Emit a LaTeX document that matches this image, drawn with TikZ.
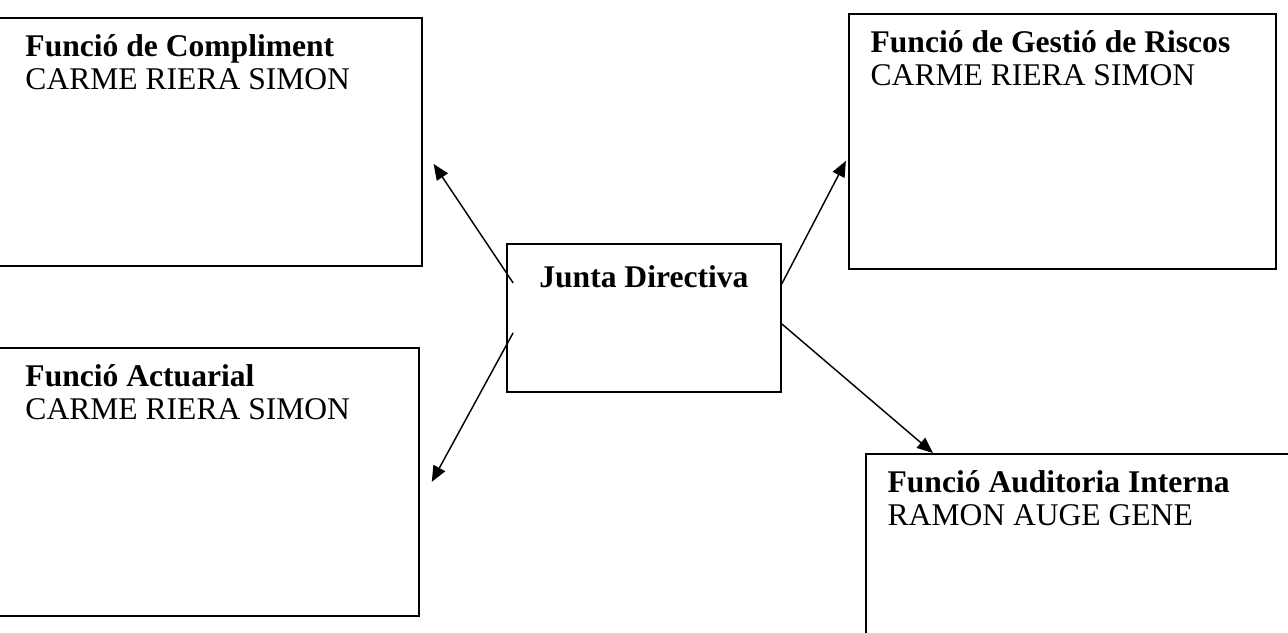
\documentclass[tikz,border=0pt]{standalone}
\usepackage{fontspec}
\setmainfont{Liberation Serif}
\usepackage{tikz}
\usetikzlibrary{arrows.meta, positioning}
\tikzstyle{funcbox} = [rectangle, anchor=north west, inner sep=0pt, draw=black, line width=0.7pt]
\tikzstyle{functext} = [anchor=north west, align=left, inner sep=0pt, font=\fontsize{12}{12.6}\selectfont]
\tikzstyle{arrow} = [line width=0.55pt,-{Triangle[length=6pt,width=5pt]}]
\begin{document}
\begin{tikzpicture}[x=0.38pt,y=-0.38pt]
\useasboundingbox (0,0) rectangle (1288,633);
\node (compl) [funcbox, minimum width=161.4pt, minimum height=94.2pt] at (-4,17) {};
\node (risc) [funcbox, minimum width=162.3pt, minimum height=96.9pt] at (848,13) {};
\node (actu) [funcbox, minimum width=160.3pt, minimum height=101.8pt] at (-4,347) {};
\node (audit) [funcbox, minimum width=167.2pt, minimum height=76pt] at (865,453) {};
\node (junta) [funcbox, minimum width=104.1pt, minimum height=56.2pt] at (506,243) {};
\node (complt) [functext, below right=6.6pt and 11pt of compl.north west] {\textbf{Funció de Compliment}\\CARME RIERA SIMON};
\node (risct) [functext, below right=6.6pt and 8.4pt of risc.north west] {\textbf{Funció de Gestió de Riscos}\\CARME RIERA SIMON};
\node (actut) [functext, below right=6.6pt and 11pt of actu.north west] {\textbf{Funció Actuarial}\\CARME RIERA SIMON};
\node (auditt) [functext, below right=6.6pt and 8.4pt of audit.north west] {\textbf{Funció Auditoria Interna}\\RAMON AUGE GENE};
\node (juntat) [functext, anchor=north, below=8.2pt of junta.north] {\textbf{Junta Directiva}};
\draw [arrow] ([xshift=2.7pt,yshift=13.3pt]junta.west) -- ([xshift=4.2pt,yshift=-8.4pt]compl.east);
\draw [arrow] ([xshift=2.7pt,yshift=-5.7pt]junta.west) -- ([xshift=4.6pt]actu.east);
\draw [arrow] ([yshift=12.9pt]junta.east) -- ([xshift=-0.8pt,yshift=-7.4pt]risc.west);
\draw [arrow] ([yshift=-2.3pt]junta.east) -- ([xshift=25.8pt]audit.north west);
\end{tikzpicture}
\end{document}
